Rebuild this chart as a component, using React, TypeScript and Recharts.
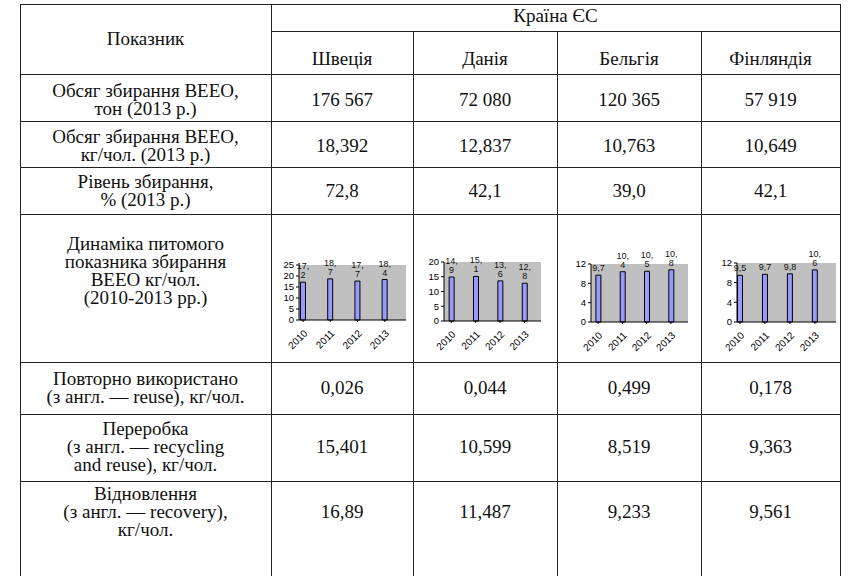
import React from "react"
import { BarChart, Bar, XAxis, YAxis, CartesianGrid, LabelList } from "recharts"

// categories / labels
const years = ["2010", "2011", "2012", "2013"]
const countries = ["Швеція", "Данія", "Бельгія", "Фінляндія"]

const rowLabels = [
  "Обсяг збирання ВЕЕО,\nтон (2013 р.)",
  "Обсяг збирання ВЕЕО,\nкг/чол. (2013 р.)",
  "Рівень збирання,\n% (2013 р.)",
  "Динаміка питомого\nпоказника збирання\nВЕЕО кг/чол.\n(2010-2013 рр.)",
  "Повторно використано\n(з англ. — reuse), кг/чол.",
  "Переробка\n(з англ. — recycling\nand reuse), кг/чол.",
  "Відновлення\n(з англ. — recovery),\nкг/чол.",
]

// table values
const tonnes = ["176 567", "72 080", "120 365", "57 919"]
const perCapita = ["18,392", "12,837", "10,763", "10,649"]
const collectionRate = ["72,8", "42,1", "39,0", "42,1"]
const reuse = ["0,026", "0,044", "0,499", "0,178"]
const recycling = ["15,401", "10,599", "8,519", "9,363"]
const recovery = ["16,89", "11,487", "9,233", "9,561"]

// mini chart series (kg per capita, 2010-2013)
const swedenValues = [17.2, 18.7, 17.7, 18.4]
const denmarkValues = [14.9, 15.1, 13.6, 12.8]
const belgiumValues = [9.7, 10.4, 10.5, 10.8]
const finlandValues = [9.5, 9.7, 9.8, 10.6]

const swedenTicks = [0, 5, 10, 15, 20, 25]
const denmarkTicks = [0, 5, 10, 15, 20]
const belgiumTicks = [0, 4, 8, 12]
const finlandTicks = [0, 4, 8, 12]

// layout
const COLS = [20, 271, 413, 557, 701, 840]
const HEADER_SPLIT = 31
const ROW_LINES = [74, 121, 167, 214, 362, 414, 481]
const ROW_CENTERS = [100, 146, 191, 271, 388, 447, 512]
const PAGE_BOTTOM = 576
const SERIF = "'Liberation Serif', 'DejaVu Serif', 'Times New Roman', serif"
const SANS = "'Liberation Sans', Arial, sans-serif"
const LINE = "#222"

const BarValueLabel = (props: any) => {
  const { x, y, width, value } = props
  const cx = x + width / 2
  const text = String(value).replace(".", ",")
  const style = { fontSize: 9, fontFamily: SANS, fill: "#111" }
  if (text.length > 3) {
    const [a, b] = text.split(",")
    return (
      <g>
        <text x={cx} y={y - 13} textAnchor="middle" {...style}>{a + ","}</text>
        <text x={cx} y={y - 4} textAnchor="middle" {...style}>{b}</text>
      </g>
    )
  }
  return (
    <text x={cx} y={y - 4} textAnchor="middle" {...style}>{text}</text>
  )
}

const YearTick = (props: any) => {
  const { x, y, payload } = props
  const ax = x + 5
  const ay = y + 10
  return (
    <text
      x={ax}
      y={ay}
      textAnchor="end"
      transform={`rotate(-45 ${ax} ${ay})`}
      fontSize={10}
      fontFamily={SANS}
      fill="#000"
    >
      {years[payload.value]}
    </text>
  )
}

interface MiniProps {
  values: number[]
  ticks: number[]
  left: number
  right: number
  plotLeft: number
  plotRight: number
  plotTop: number
  plotBottom: number
  padL: number
  padR: number
}

const TOP = 240
const BOTTOM = 358

const MiniChart: React.FC<MiniProps> = (p) => {
  const data = years.map((year, i) => ({ idx: i, year, value: p.values[i] }))
  const width = p.right - p.left
  const height = BOTTOM - TOP
  return (
    <div style={{ position: "absolute", left: p.left, top: TOP, width, height }}>
      <BarChart
        width={width}
        height={height}
        data={data}
        margin={{ top: p.plotTop - TOP, right: p.right - p.plotRight, bottom: 0, left: 0 }}
      >
        <CartesianGrid horizontal={false} vertical={false} fill="#c0c0c0" fillOpacity={1} />
        <XAxis
          type="number"
          dataKey="idx"
          domain={[-p.padL, 3 + p.padR]}
          ticks={[0, 1, 2, 3]}
          allowDataOverflow
          height={BOTTOM - p.plotBottom}
          tick={<YearTick />}
          tickSize={2}
          interval={0}
          axisLine={{ stroke: "#000" }}
          tickLine={{ stroke: "#000" }}
        />
        <YAxis
          domain={[0, p.ticks[p.ticks.length - 1]]}
          ticks={p.ticks}
          interval={0}
          width={p.plotLeft - p.left}
          tickSize={3}
          tickMargin={2}
          axisLine={{ stroke: "#000" }}
          tickLine={{ stroke: "#000" }}
          tick={{ fontSize: 9.5, fontFamily: SANS, fill: "#000" }}
        />
        <Bar dataKey="value" fill="#9999ff" stroke="#000" strokeWidth={1} barSize={5} isAnimationActive={false}>
          <LabelList dataKey="value" content={<BarValueLabel />} />
        </Bar>
      </BarChart>
    </div>
  )
}

// text block centred at (x0..x1, cy)
const Text: React.FC<{ x0: number; x1: number; cy: number; text: string }> = ({ x0, x1, cy, text }) => (
  <div
    style={{
      position: "absolute",
      left: x0,
      top: cy - 50,
      width: x1 - x0,
      height: 100,
      display: "flex",
      alignItems: "center",
      justifyContent: "center",
      textAlign: "center",
      whiteSpace: "pre",
      fontFamily: SERIF,
      fontSize: 19,
      lineHeight: "18px",
      color: "#111",
    }}
  >
    {text}
  </div>
)

const HLine = ({ y, x0, x1 }: { y: number; x0: number; x1: number }) => (
  <div style={{ position: "absolute", left: x0, top: y, width: x1 - x0 + 1, height: 1, background: LINE }} />
)
const VLine = ({ x, y0, y1 }: { x: number; y0: number; y1: number }) => (
  <div style={{ position: "absolute", left: x, top: y0, width: 1, height: y1 - y0, background: LINE }} />
)

export default function App() {
  const valueRows: [string[], number][] = [
    [tonnes, 0],
    [perCapita, 1],
    [collectionRate, 2],
    [reuse, 4],
    [recycling, 5],
    [recovery, 6],
  ]
  const L = COLS[0]
  const R = COLS[5]
  const TOP_LINE = 4
  return (
    <div style={{ position: "absolute", left: 0, top: 0, width: 848, height: 576, background: "#fff", overflow: "hidden" }}>
      {/* header */}
      <Text x0={L} x1={COLS[1]} cy={39} text="Показник" />
      <Text x0={COLS[1]} x1={R} cy={16} text="Країна ЄС" />
      {countries.map((c, i) => (
        <Text key={c} x0={COLS[i + 1]} x1={COLS[i + 2]} cy={59} text={c} />
      ))}

      {/* row labels */}
      {rowLabels.map((t, i) => (
        <Text key={i} x0={L} x1={COLS[1]} cy={ROW_CENTERS[i]} text={t} />
      ))}

      {/* values */}
      {valueRows.map(([vals, r]) =>
        vals.map((v, i) => (
          <Text key={r + "-" + i} x0={COLS[i + 1]} x1={COLS[i + 2]} cy={ROW_CENTERS[r]} text={v} />
        ))
      )}

      {/* mini charts */}
      <MiniChart values={swedenValues} ticks={swedenTicks} left={273} right={411}
        plotLeft={299} plotRight={406} plotTop={265} plotBottom={320} padL={0.15} padR={0.78} />
      <MiniChart values={denmarkValues} ticks={denmarkTicks} left={415} right={555}
        plotLeft={444} plotRight={541} plotTop={262} plotBottom={321} padL={0.3} padR={0.68} />
      <MiniChart values={belgiumValues} ticks={belgiumTicks} left={559} right={699}
        plotLeft={591} plotRight={688} plotTop={264} plotBottom={322} padL={0.29} padR={0.7} />
      <MiniChart values={finlandValues} ticks={finlandTicks} left={703} right={838}
        plotLeft={737} plotRight={836} plotTop={263} plotBottom={322} padL={0.12} padR={0.85} />

      {/* grid lines */}
      <HLine y={TOP_LINE} x0={L} x1={R} />
      <HLine y={HEADER_SPLIT} x0={COLS[1]} x1={R} />
      {ROW_LINES.map((y) => (
        <HLine key={y} y={y} x0={L} x1={R} />
      ))}
      {COLS.map((x, i) => (
        <VLine key={x} x={x} y0={i >= 2 && i <= 4 ? HEADER_SPLIT : TOP_LINE} y1={PAGE_BOTTOM} />
      ))}
    </div>
  )
}
